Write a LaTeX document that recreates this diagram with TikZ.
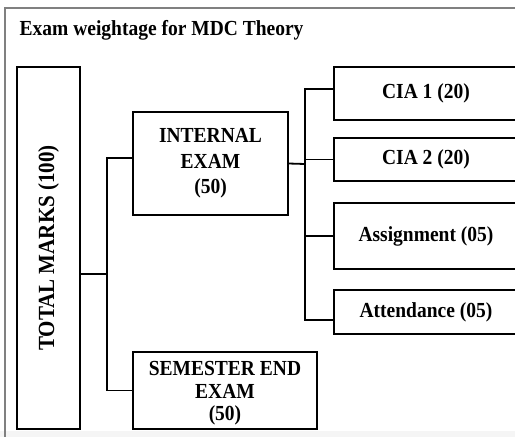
\documentclass[tikz,border=0pt]{standalone}
\usepackage{fontspec}
\setmainfont{Liberation Serif}
\usepackage{graphicx}
\usepackage{tikz}
\usetikzlibrary{positioning}

\newcommand{\tallt}[1]{\scalebox{1}[1.1]{#1}}

\tikzset{
  box/.style={draw, line width=1.1pt, align=center, inner sep=0pt,
    font=\fontsize{19.5}{25.5}\selectfont\bfseries},
  conn/.style={line width=1.8pt}
}

\begin{document}
\begin{tikzpicture}[x=1pt,y=-1pt]
\useasboundingbox (0,0) rectangle (515,437);
\fill[black!4] (0,431) rectangle (515,437);
\draw[gray, line width=1.3pt] (5,437) -- (5,8) -- (530,8);
\node[anchor=base west, inner sep=0pt, font=\fontsize{19.5}{21}\selectfont\bfseries] (title) at (19.5,35) {\tallt{Exam weightage for MDC Theory}};

	% main boxes
	\node[box, minimum width=63pt, minimum height=362pt] (total) at (48.5,248) {};
	\node[rotate=90, inner sep=0pt, font=\fontsize{21}{23}\selectfont\bfseries] (totaltext) at (total.center) {\scalebox{1}[1.1]{TOTAL MARKS (100)}};
	\node[box, minimum width=155pt, minimum height=103pt] (internal) at (210.5,163.5) {\tallt{INTERNAL}\\\tallt{EXAM}\\\tallt{(50)}};
	\node[box, minimum width=184pt, minimum height=77pt] (semester) at (225,390.5) {};
	\node[align=center, inner sep=0pt, font=\fontsize{19.5}{22.5}\selectfont\bfseries] (semtext) at ([yshift=-3pt]semester.center) {\tallt{SEMESTER END}\\\tallt{EXAM}\\\tallt{(50)}};

	% internal parts
	\node[box, minimum width=200pt, minimum height=53pt] (cia1) at (434,93.5) {\hspace*{-16pt}\tallt{CIA 1 (20)}};
	\node[box, minimum width=200pt, minimum height=43pt] (cia2) at (434,159.5) {\hspace*{-16pt}\tallt{CIA 2 (20)}};
	\node[box, minimum width=200pt, minimum height=66pt] (assign) at (434,236) {\hspace*{-16pt}\tallt{Assignment (05)}};
	\node[box, minimum width=200pt, minimum height=44pt] (attend) at (434,312) {\hspace*{-16pt}\tallt{Attendance (05)}};

	\coordinate (j1) at (107,274);
	\coordinate (j2) at (305,164);

	\draw[conn] ([yshift=-26pt]total.east) -- (j1);
	\draw[conn] (j1) |- ([yshift=5.5pt]internal.west);
	\draw[conn] (j1) |- (semester.west);
	\draw[conn] (internal.east) -- (j2);
	\draw[conn] (j2) |- ([yshift=4.5pt]cia1.west);
	\draw[conn] (j2) |- (cia2.west);
	\draw[conn] (j2) |- (assign.west);
	\draw[conn] (j2) |- ([yshift=-8pt]attend.west);
\end{tikzpicture}
\end{document}
